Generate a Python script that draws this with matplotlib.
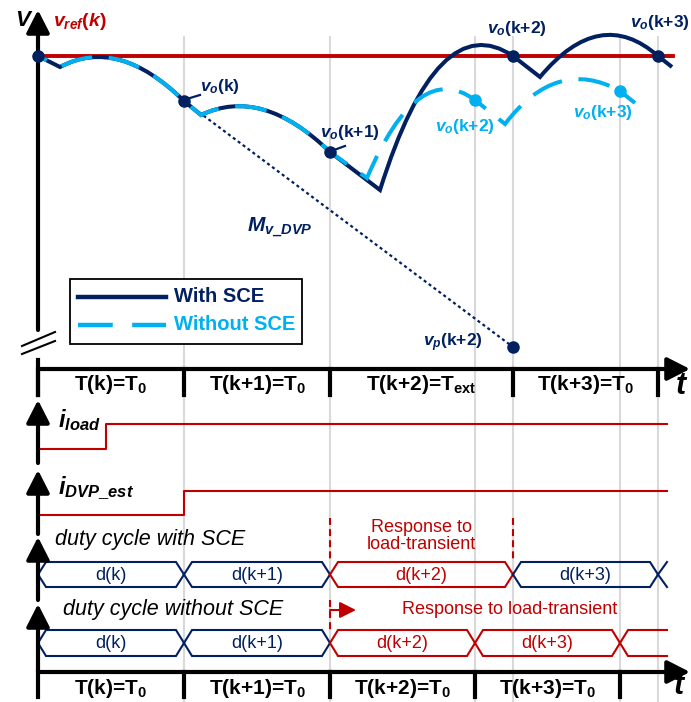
import matplotlib
matplotlib.use("Agg")
import matplotlib.pyplot as plt
from matplotlib.path import Path
from matplotlib.patches import PathPatch, Rectangle

plt.rcParams.update({
    "font.family": "Liberation Sans",
    "mathtext.fontset": "custom",
    "mathtext.it": "Liberation Sans:italic:bold",
    "mathtext.rm": "Liberation Sans:bold",
    "mathtext.bf": "Liberation Sans:bold",
    "lines.scale_dashes": False,
})

NAVY = "#002060"
LBLUE = "#00B0F0"
RED = "#C00000"
GREY = "#D9D9D9"

# layout units: x = time (px-like), y grows downward
T_TOP = [38, 184, 330, 513, 658]
T_TOP_LABELS = ["T(k)=T$_0$", "T(k+1)=T$_0$", r"T(k+2)=T$_{\mathrm{ext}}$", "T(k+3)=T$_0$"]
T_BOT = [38, 184, 330, 475, 620]
T_BOT_LABELS = ["T(k)=T$_0$", "T(k+1)=T$_0$", "T(k+2)=T$_0$", "T(k+3)=T$_0$"]
GRID_X = [184, 330, 475, 513, 620, 658]

V_REF = 56
V_REF_END = 673

# output voltage, with SCE: start point, then (line end,) or (control, end) segments
WITH_START = (38, 56)
WITH_SEGS = [((60, 67),), ((118, 36), (184, 101)), ((201, 115),), ((262, 86), (330, 152)),
             ((380, 190),), ((438, 5), (513, 56)), ((540, 77),), ((600, 5), (658, 56)),
             ((672, 67),)]
WITH_DOTS_X = [38, 184, 330, 513, 658]
WITH_DOTS_Y = [56, 101, 152, 56, 56]

# output voltage, without SCE
WO_START = (38, 56)
WO_SEGS = [((60, 67),), ((118, 36), (184, 101)), ((201, 115),), ((262, 86), (330, 152)),
           ((367, 178),), ((418, 58), (475, 100)), ((505, 124),), ((557, 56), (620, 91)),
           ((635, 103),)]
WO_DOTS_X = [475, 620]
WO_DOTS_Y = [100, 91]

# DVP predicted line
DVP_X = [184, 513]
DVP_Y = [101, 347]

# load steps
ILOAD_X = [38, 106, 106, 667]
ILOAD_Y = [449, 449, 424, 424]
IDVP_X = [38, 184, 184, 667]
IDVP_Y = [515, 515, 491, 491]

# duty cycle rows
DW_EDGES = [38, 184, 330, 513, 658]
DW_LABELS = ["d(k)", "d(k+1)", "d(k+2)", "d(k+3)"]
DW_COLORS = [NAVY, NAVY, RED, NAVY]
DW_TOP, DW_BOT = 562, 587
DWO_EDGES = [38, 184, 330, 475, 620]
DWO_LABELS = ["d(k)", "d(k+1)", "d(k+2)", "d(k+3)"]
DWO_COLORS = [NAVY, NAVY, RED, RED]
DWO_TOP, DWO_BOT = 630, 656
SLANT = 8
ROW_END = 667

AX_TOP_Y = 369
AX_BOT_Y = 672
AX_END = 690


def build_path(start, segs):
    verts, codes = [start], [Path.MOVETO]
    for seg in segs:
        verts += list(seg)
        codes += [Path.LINETO] if len(seg) == 1 else [Path.CURVE3, Path.CURVE3]
    return Path(verts, codes)


def arrow(ax, x0, y0, x1, y1, lw=3.0, ms=25, hl=0.55, hw=0.28, color="k"):
    ax.annotate("", xy=(x1, y1), xytext=(x0, y0),
                arrowprops=dict(arrowstyle=f"-|>,head_length={hl},head_width={hw}",
                                mutation_scale=ms, lw=lw, color=color,
                                shrinkA=0, shrinkB=0))


def duty_row(ax, edges, labels, colors, top, bot):
    mid = (top + bot) / 2
    for a, b, lab, c in zip(edges[:-1], edges[1:], labels, colors):
        ax.plot([a, a + SLANT, b - SLANT, b, b - SLANT, a + SLANT, a],
                [mid, top, top, mid, bot, bot, mid], color=c, lw=1.5, solid_joinstyle="miter")
        ax.text((a + b) / 2, mid + 1, lab, ha="center", va="center", fontsize=13, color=c)


fig = plt.figure(figsize=(6.91, 7.02), dpi=100)
ax = fig.add_axes([0, 0, 1, 1])
ax.set_xlim(0, 691)
ax.set_ylim(702, 0)
ax.axis("off")

for gx in GRID_X:
    ax.plot([gx, gx], [37, 702], color=GREY, lw=1.5, zorder=0)

# ---- voltage panel ----
ax.plot([T_TOP[0], V_REF_END], [V_REF, V_REF], color=RED, lw=2.8, zorder=2)
ax.plot(DVP_X, DVP_Y, color=NAVY, lw=1.6, ls=(0, (2.2, 2.2)), zorder=2)
ax.add_patch(PathPatch(build_path(WITH_START, WITH_SEGS), fill=False, edgecolor=NAVY,
                       lw=2.9, zorder=3))
ax.add_patch(PathPatch(build_path(WO_START, WO_SEGS), fill=False, edgecolor=LBLUE,
                       lw=2.9, ls=(16, (23, 12)), capstyle="butt", zorder=4))
ax.plot(WITH_DOTS_X, WITH_DOTS_Y, "o", color=NAVY, ms=8, zorder=5)
ax.plot(WO_DOTS_X, WO_DOTS_Y, "o", color=LBLUE, ms=8, zorder=5)
ax.plot([DVP_X[1]], [DVP_Y[1]], "o", color=NAVY, ms=8, zorder=5)
ax.plot([190, 200], [98, 95], color=NAVY, lw=1.6)
ax.plot([334, 345], [150, 146], color=NAVY, lw=1.6)

ax.text(23, 20, "V", ha="center", va="center", fontsize=16, fontweight="bold", fontstyle="italic")
ax.text(53, 22, r"$v_{ref}(k)$", ha="left", va="center", fontsize=14, color=RED)
ax.text(200, 87, "$v_o$(k)", ha="left", va="center", fontsize=12.5, color=NAVY, fontweight="bold")
ax.text(320, 133, "$v_o$(k+1)", ha="left", va="center", fontsize=12.5, color=NAVY, fontweight="bold")
ax.text(487, 28, "$v_o$(k+2)", ha="left", va="center", fontsize=12.5, color=NAVY, fontweight="bold")
ax.text(630, 23, "$v_o$(k+3)", ha="left", va="center", fontsize=12.5, color=NAVY, fontweight="bold")
ax.text(435, 127, "$v_o$(k+2)", ha="left", va="center", fontsize=12.5, color=LBLUE, fontweight="bold")
ax.text(573, 113, "$v_o$(k+3)", ha="left", va="center", fontsize=12.5, color=LBLUE, fontweight="bold")
ax.text(247, 227, r"$M_{v\_DVP}$", ha="left", va="center", fontsize=15, color=NAVY)
ax.text(423, 343, "$v_p$(k+2)", ha="left", va="center", fontsize=12.5, color=NAVY, fontweight="bold")

# legend
ax.add_patch(Rectangle((70, 279), 232, 65, facecolor="white", edgecolor="black", lw=1.3, zorder=6))
ax.plot([78, 166], [297, 297], color=NAVY, lw=3.2, zorder=7)
ax.plot([78, 166], [325, 325], color=LBLUE, lw=3.2, ls=(0, (25, 14)), solid_capstyle="butt", zorder=7)
ax.text(174, 297, "With SCE", ha="left", va="center", fontsize=14.5, fontweight="bold", color=NAVY, zorder=7)
ax.text(174, 325, "Without SCE", ha="left", va="center", fontsize=14.5, fontweight="bold", color=LBLUE, zorder=7)

# axes: vertical v axis with break
arrow(ax, T_TOP[0], 330, T_TOP[0], 10)
ax.plot([T_TOP[0], T_TOP[0]], [360, 395], color="k", lw=3)
ax.plot([22, 55], [346, 332], color="k", lw=1.5)
ax.plot([22, 55], [354, 341], color="k", lw=1.5)

# top time axis
arrow(ax, T_TOP[0], AX_TOP_Y, AX_END, AX_TOP_Y)
for tx in T_TOP:
    ax.plot([tx, tx], [AX_TOP_Y, 395], color="k", lw=3)
for a, b, lab in zip(T_TOP[:-1], T_TOP[1:], T_TOP_LABELS):
    ax.text((a + b) / 2, 384, lab, ha="center", va="center", fontsize=15, fontweight="bold")
ax.text(681, 386, "t", ha="center", va="center", fontsize=22, fontweight="bold", fontstyle="italic")

# i_load
arrow(ax, T_TOP[0], 463, T_TOP[0], 400)
ax.plot(ILOAD_X, ILOAD_Y, color=RED, lw=1.5)
ax.text(58, 420, "$i_{load}$", ha="left", va="center", fontsize=17)

# i_DVP_est
arrow(ax, T_TOP[0], 534, T_TOP[0], 470)
ax.plot(IDVP_X, IDVP_Y, color=RED, lw=1.5)
ax.text(58, 488, r"$i_{DVP\_est}$", ha="left", va="center", fontsize=17)

# duty cycle with SCE
arrow(ax, T_TOP[0], 600, T_TOP[0], 537)
ax.text(55, 540, "duty cycle with SCE", ha="left", va="center", fontsize=15.5, fontstyle="italic")
duty_row(ax, DW_EDGES, DW_LABELS, DW_COLORS, DW_TOP, DW_BOT)
xe = DW_EDGES[-1]
ax.plot([xe, xe + SLANT + 1], [(DW_TOP + DW_BOT) / 2, DW_TOP], color=NAVY, lw=1.5)
ax.plot([xe, xe + SLANT + 1], [(DW_TOP + DW_BOT) / 2, DW_BOT], color=NAVY, lw=1.5)
for dx in (DW_EDGES[2], DW_EDGES[3]):
    ax.plot([dx, dx], [518, DW_TOP], color=RED, lw=1.5, ls=(0, (5, 3)))
ax.text((DW_EDGES[2] + DW_EDGES[3]) / 2, 536, "Response to\nload-transient", ha="center",
        va="center", fontsize=13, color=RED, linespacing=0.95)

# duty cycle without SCE
arrow(ax, T_TOP[0], AX_BOT_Y, T_TOP[0], 604)
ax.text(63, 609, "duty cycle without SCE", ha="left", va="center", fontsize=15.5, fontstyle="italic")
duty_row(ax, DWO_EDGES, DWO_LABELS, DWO_COLORS, DWO_TOP, DWO_BOT)
xe = DWO_EDGES[-1]
ax.plot([xe, xe + SLANT, ROW_END], [(DWO_TOP + DWO_BOT) / 2, DWO_TOP, DWO_TOP], color=RED, lw=1.5)
ax.plot([xe, xe + SLANT, ROW_END], [(DWO_TOP + DWO_BOT) / 2, DWO_BOT, DWO_BOT], color=RED, lw=1.5)
ax.plot([DWO_EDGES[2], DWO_EDGES[2]], [600, DWO_TOP], color=RED, lw=1.5, ls=(0, (5, 3)))
arrow(ax, DWO_EDGES[2], 610, DWO_EDGES[2] + 26, 610, lw=1.5, ms=14, hl=0.7, hw=0.35, color=RED)
ax.text(402, 610, "Response to load-transient", ha="left", va="center", fontsize=13, color=RED)

# bottom time axis
arrow(ax, T_BOT[0], AX_BOT_Y, AX_END, AX_BOT_Y)
for tx in T_BOT:
    ax.plot([tx, tx], [AX_BOT_Y, 697], color="k", lw=3)
for a, b, lab in zip(T_BOT[:-1], T_BOT[1:], T_BOT_LABELS):
    ax.text((a + b) / 2, 688, lab, ha="center", va="center", fontsize=15, fontweight="bold")
ax.text(679, 686, "t", ha="center", va="center", fontsize=22, fontweight="bold", fontstyle="italic")

fig.savefig("out.png", dpi=100)
